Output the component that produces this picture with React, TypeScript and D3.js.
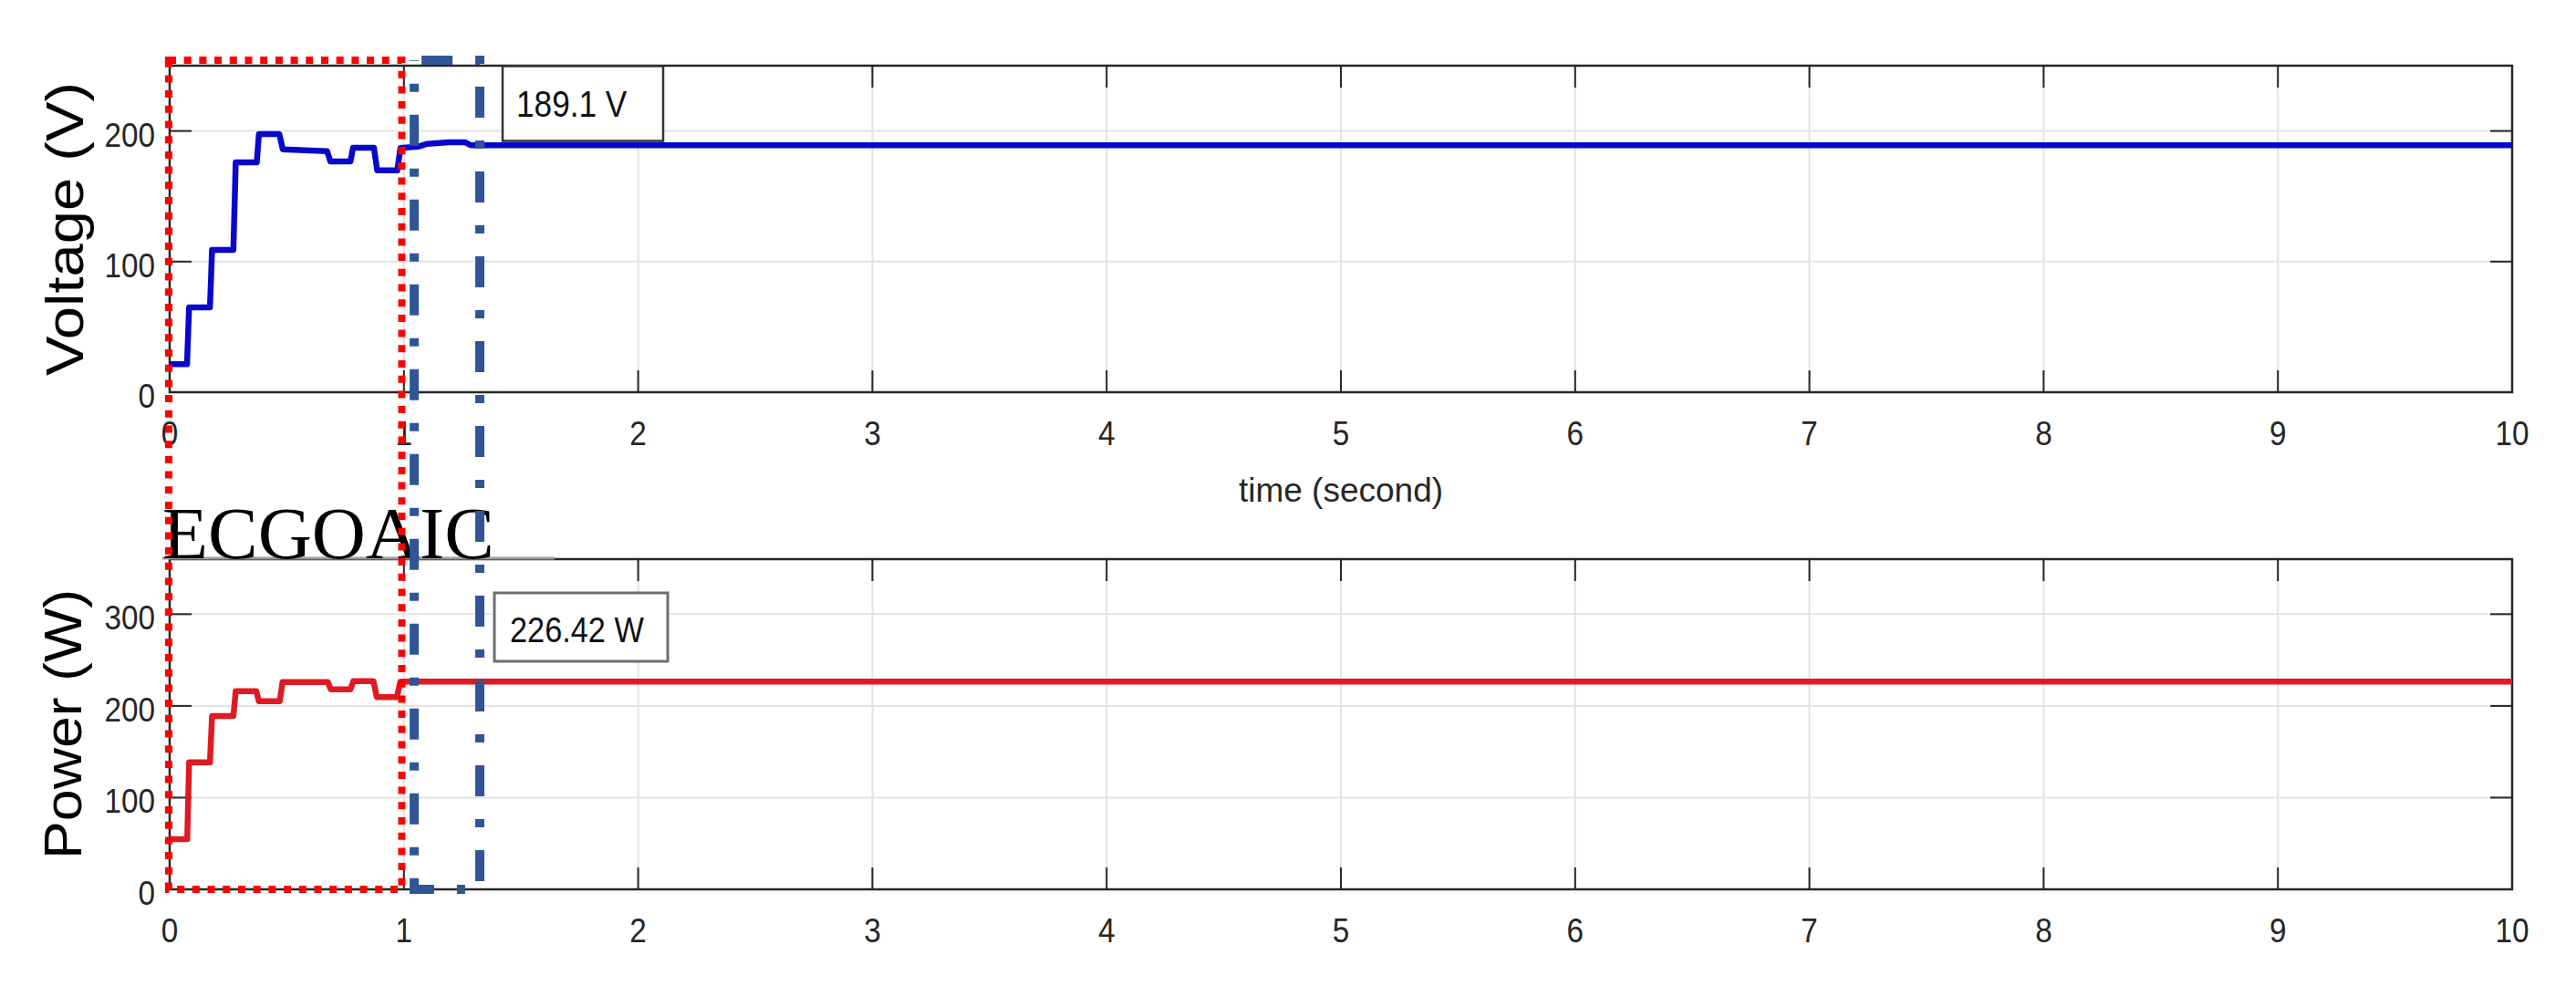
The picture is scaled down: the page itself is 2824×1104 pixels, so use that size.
import React, { useEffect } from "react";
import * as d3 from "d3";

// ---- data ----
const TIME_TICKS = [0, 1, 2, 3, 4, 5, 6, 7, 8, 9, 10];
const VOLT_TICKS = [0, 100, 200];
const POWER_TICKS = [0, 100, 200, 300];

const voltTime = [0, 0.074, 0.083, 0.172, 0.181, 0.272, 0.282, 0.372, 0.381, 0.468, 0.483, 0.672, 0.686, 0.772, 0.783, 0.872, 0.886, 0.972, 0.985, 1.06, 1.1, 1.19, 1.26, 1.285, 10];
const voltValue = [21.4, 21.4, 65, 65, 109, 109, 176, 176, 197.6, 197.6, 186, 184.5, 176.7, 176.7, 187.2, 187.2, 169.8, 169.8, 187, 188, 190.2, 191.4, 191.4, 189.1, 189.1];

const powTime = [0, 0.075, 0.083, 0.172, 0.181, 0.272, 0.282, 0.37, 0.381, 0.47, 0.482, 0.675, 0.688, 0.772, 0.784, 0.87, 0.884, 0.97, 0.985, 10];
const powValue = [54.7, 54.7, 138.5, 138.5, 189, 189, 216, 216, 205, 205, 226, 226, 218, 218, 227, 227, 209.7, 209.7, 226.4, 226.42];

const VOLT_LABEL = "Voltage (V)";
const POWER_LABEL = "Power (W)";
const X_LABEL = "time (second)";
const VOLT_NOTE = "189.1 V";
const POWER_NOTE = "226.42 W";
const METHOD_LABEL = "ECGOAIC";

// highlight windows (seconds)
const RED_WINDOW = [0, 0.991];
const BLUE_WINDOW = [1.044, 1.324];

const W = 2824;
const H = 1104;

const x = d3.scaleLinear().domain([0, 10]).range([186, 2754]);
const yV = d3.scaleLinear().domain([0, 250]).range([430, 72]);
const yP = d3.scaleLinear().domain([0, 360]).range([975, 613]);

const SANS = "'Liberation Sans', Arial, Helvetica, sans-serif";
const TICK_COLOR = "#262626";

function Panel({ y, ticks, label, labelX, labelLen }: { y: d3.ScaleLinear<number, number>; ticks: number[]; label: string; labelX: number; labelLen: number }) {
  const [x0, x1] = x.range();
  const [yb, yt] = y.range();
  const tl = 24;
  return (
    <g>
      {TIME_TICKS.map((t) => (
        <line key={"gx" + t} x1={x(t)} x2={x(t)} y1={yt} y2={yb} stroke="#e3e3e3" strokeWidth={2} />
      ))}
      {ticks.map((v) => (
        <line key={"gy" + v} x1={x0} x2={x1} y1={y(v)} y2={y(v)} stroke="#e3e3e3" strokeWidth={2} />
      ))}
      {TIME_TICKS.map((t) => (
        <g key={"tx" + t}>
          <line x1={x(t)} x2={x(t)} y1={yb} y2={yb - tl} stroke={TICK_COLOR} strokeWidth={2} />
          <line x1={x(t)} x2={x(t)} y1={yt} y2={yt + tl} stroke={TICK_COLOR} strokeWidth={2} />
          <text
            transform={`translate(${x(t)},${yb + 58}) scale(0.9,1)`}
            textAnchor="middle"
            fontFamily={SANS}
            fontSize={37}
            fill={TICK_COLOR}
          >
            {t}
          </text>
        </g>
      ))}
      {ticks.map((v) => (
        <g key={"ty" + v}>
          <line x1={x0} x2={x0 + tl} y1={y(v)} y2={y(v)} stroke={TICK_COLOR} strokeWidth={2} />
          <line x1={x1} x2={x1 - tl} y1={y(v)} y2={y(v)} stroke={TICK_COLOR} strokeWidth={2} />
          <text
            transform={`translate(170,${y(v) + 17}) scale(0.9,1)`}
            textAnchor="end"
            fontFamily={SANS}
            fontSize={37}
            fill={TICK_COLOR}
          >
            {v}
          </text>
        </g>
      ))}
      <rect x={x0} y={yt} width={x1 - x0} height={yb - yt} fill="none" stroke={TICK_COLOR} strokeWidth={2.5} />
      <text
        transform={`translate(${labelX},${(yt + yb) / 2}) scale(0.9,1) rotate(-90)`}
        textAnchor="middle"
        fontFamily={SANS}
        fontSize={64}
        textLength={labelLen}
        lengthAdjust="spacingAndGlyphs"
        fill="#000"
      >
        {label}
      </text>
    </g>
  );
}

export default function App() {
  useEffect(() => {
    document.body.style.margin = "0";
  }, []);

  const voltLine = d3
    .line<number>()
    .x((_, i) => x(voltTime[i]))
    .y((d) => yV(d))(voltValue) as string;
  const powLine = d3
    .line<number>()
    .x((_, i) => x(powTime[i]))
    .y((d) => yP(d))(powValue) as string;

  const boxTop = 66;
  const boxBottom = 975;

  return (
    <svg width={W} height={H} style={{ position: "absolute", left: 0, top: 0, background: "#fff" }}>
      <rect x={0} y={0} width={W} height={H} fill="#fff" />
      <Panel y={yV} ticks={VOLT_TICKS} label={VOLT_LABEL} labelX={91} labelLen={322} />
      <Panel y={yP} ticks={POWER_TICKS} label={POWER_LABEL} labelX={89} labelLen={296} />

      <text x={x(5)} y={550} textAnchor="middle" fontFamily={SANS} fontSize={37} fill={TICK_COLOR}>
        {X_LABEL}
      </text>

      <path d={voltLine} fill="none" stroke="#0808cc" strokeWidth={6.5} strokeLinejoin="round" />
      <path d={powLine} fill="none" stroke="#e01a22" strokeWidth={6.5} strokeLinejoin="round" />

      {/* data tips */}
      <rect x={551} y={72.5} width={176} height={82} fill="#fff" stroke="#333" strokeWidth={2.5} />
      <text transform="translate(566,128) scale(0.88,1)" fontFamily={SANS} fontSize={40} fill="#111">
        {VOLT_NOTE}
      </text>
      <rect x={542} y={650} width={190} height={75} fill="#fff" stroke="#6f6f6f" strokeWidth={3} />
      <text transform="translate(559,704) scale(0.88,1)" fontFamily={SANS} fontSize={39} fill="#111">
        {POWER_NOTE}
      </text>

      {/* method label */}
      <line x1={178} x2={608} y1={612} y2={612} stroke="#9a9a9a" strokeWidth={3} />
      <text
        x={178}
        y={612}
        fontFamily="'Liberation Serif', 'Times New Roman', serif"
        fontSize={81}
        textLength={364}
        lengthAdjust="spacingAndGlyphs"
        fill="#000"
      >
        {METHOD_LABEL}
      </text>

      {/* highlight windows */}
      <rect
        x={x(RED_WINDOW[0]) - 1}
        y={boxTop}
        width={x(RED_WINDOW[1]) - x(RED_WINDOW[0]) + 1}
        height={boxBottom - boxTop}
        fill="none"
        stroke="#ff0000"
        strokeWidth={8}
        strokeDasharray="8 8.7"
      />
      <rect
        x={x(BLUE_WINDOW[0])}
        y={boxTop}
        width={x(BLUE_WINDOW[1]) - x(BLUE_WINDOW[0])}
        height={boxBottom - boxTop}
        fill="none"
        stroke="#2f5597"
        strokeWidth={10}
        strokeDasharray="34 25 9 25"
        strokeDashoffset={-8}
      />
    </svg>
  );
}
